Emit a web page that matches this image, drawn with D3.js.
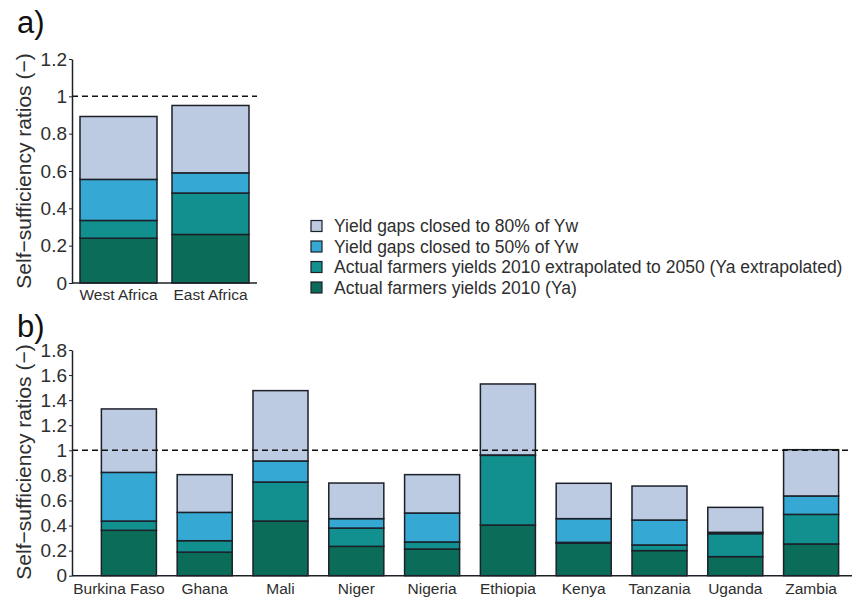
<!DOCTYPE html>
<html>
<head>
<meta charset="utf-8">
<script src="https://cdn.jsdelivr.net/npm/d3@7"></script>
<style>
  html, body { margin: 0; padding: 0; background: #fff; }
  svg { display: block; font-family: "Liberation Sans", Arial, sans-serif; }
</style>
</head>
<body>
<svg id="chart" width="852" height="599"></svg>
<script>
// ---- data (cumulative self-sufficiency ratios per scenario) ----
const regions = ["West Africa", "East Africa"];
const regionYa = [0.24, 0.26];
const regionYaExt = [0.335, 0.482];
const regionYg50 = [0.555, 0.59];
const regionYg80 = [0.892, 0.951];

const countries = ["Burkina Faso", "Ghana", "Mali", "Niger", "Nigeria", "Ethiopia", "Kenya", "Tanzania", "Uganda", "Zambia"];
const countryYa = [0.362, 0.188, 0.436, 0.234, 0.213, 0.404, 0.26, 0.2, 0.152, 0.253];
const countryYaExt = [0.436, 0.279, 0.747, 0.38, 0.269, 0.96, 0.266, 0.245, 0.335, 0.489];
const countryYg50 = [0.824, 0.505, 0.915, 0.455, 0.5, 0.963, 0.455, 0.444, 0.346, 0.636];
const countryYg80 = [1.33, 0.806, 1.476, 0.739, 0.806, 1.529, 0.737, 0.715, 0.545, 1.005];

const seriesNames = [
  "Actual farmers yields 2010 (Ya)",
  "Actual farmers yields 2010 extrapolated to 2050 (Ya extrapolated)",
  "Yield gaps closed to 50% of Yw",
  "Yield gaps closed to 80% of Yw"
];
const seriesColors = ["#0b6d59", "#11908f", "#35a9d3", "#bccae2"];
const yTicksA = [0, 0.2, 0.4, 0.6, 0.8, 1, 1.2];
const yTicksB = [0, 0.2, 0.4, 0.6, 0.8, 1, 1.2, 1.4, 1.6, 1.8];
const yTitle = "Self\u2212sufficiency ratios (\u2212)";

const svg = d3.select("#chart");
const ink = "#1c2029";
const textCol = "#2e2e2e";

function panel(cfg) {
  const { cats, levels, x, y, ticks, axisRight, letter, letterY, titleCy } = cfg;
  const g = svg.append("g");
  // stacked segments
  levels.forEach((vals, si) => {
    g.append("g").selectAll("rect").data(cats).join("rect")
      .attr("x", (c) => x(c))
      .attr("width", x.bandwidth())
      .attr("y", (c, i) => y(vals[i]))
      .attr("height", (c, i) => y(si === 0 ? 0 : levels[si - 1][i]) - y(vals[i]))
      .attr("fill", seriesColors[si])
      .attr("stroke", ink)
      .attr("stroke-width", 1.5);
  });
  // dashed reference line at 1
  g.append("line")
    .attr("x1", y.xLeft).attr("x2", axisRight)
    .attr("y1", y(1)).attr("y2", y(1))
    .attr("stroke", "#111").attr("stroke-width", 1.5)
    .attr("stroke-dasharray", "6,4");
  // y axis
  const ya = g.append("g").attr("transform", `translate(${y.xLeft},0)`)
    .call(d3.axisLeft(y).tickValues(ticks).tickFormat(d3.format("~g")).tickSize(3).tickSizeOuter(0).tickPadding(2));
  ya.select(".domain").attr("stroke", ink).attr("stroke-width", 1.5);
  ya.selectAll(".tick line").attr("stroke", ink);
  ya.selectAll("text").attr("font-size", 19).attr("fill", textCol);
  // x axis
  const xa = g.append("g").attr("transform", `translate(0,${y(0)})`)
    .call(d3.axisBottom(x).tickSize(0).tickPadding(cfg.xPad));
  xa.select(".domain").remove();
  g.append("line").attr("x1", y.xLeft).attr("x2", axisRight)
    .attr("y1", y(0)).attr("y2", y(0)).attr("stroke", ink).attr("stroke-width", 1.5);
  xa.selectAll("text").attr("font-size", 15.5).attr("fill", textCol);
  if (cfg.firstLabelDx) {
    xa.selectAll(".tick text").filter((d, i) => i === 0).attr("dx", cfg.firstLabelDx);
  }
  // y title
  g.append("text")
    .attr("transform", `translate(31,${titleCy}) rotate(-90)`)
    .attr("text-anchor", "middle").attr("font-size", 21).attr("fill", textCol)
    .text(yTitle);
  // panel letter
  g.append("text").attr("x", 17).attr("y", letterY)
    .attr("font-size", 31).attr("fill", "#111").text(letter);
}

// panel a
const yA = d3.scaleLinear().domain([0, 1.2]).range([283, 59]);
yA.xLeft = 72;
const xA = d3.scaleBand().domain(regions).range([72.5, 256.5]).paddingInner(0.163).paddingOuter(0.0815);
panel({
  cats: regions, levels: [regionYa, regionYaExt, regionYg50, regionYg80],
  x: xA, y: yA, ticks: yTicksA, axisRight: 257, letter: "a)", letterY: 33, titleCy: 171, xPad: 6
});

// panel b
const yB = d3.scaleLinear().domain([0, 1.8]).range([575.7, 350]);
yB.xLeft = 72;
const xB = d3.scaleBand().domain(countries).range([91, 849]).paddingInner(0.274).paddingOuter(0.137);
panel({
  cats: countries, levels: [countryYa, countryYaExt, countryYg50, countryYg80],
  x: xB, y: yB, ticks: yTicksB, axisRight: 852, letter: "b)", letterY: 337, titleCy: 462, xPad: 7,
  firstLabelDx: -10
});

// legend (top to bottom: 80%, 50%, extrapolated, Ya)
const legendOrder = [3, 2, 1, 0];
const lg = svg.append("g");
const legendY = d3.scalePoint().domain(legendOrder).range([226, 287.5]);
legendOrder.forEach((si) => {
  lg.append("rect").attr("x", 311).attr("y", legendY(si) - 5.5)
    .attr("width", 11).attr("height", 11)
    .attr("fill", seriesColors[si]).attr("stroke", ink).attr("stroke-width", 1.2);
  lg.append("text").attr("x", 334).attr("y", legendY(si))
    .attr("dominant-baseline", "central").attr("font-size", 17.5).attr("fill", textCol)
    .text(seriesNames[si]);
});
</script>
</body>
</html>
